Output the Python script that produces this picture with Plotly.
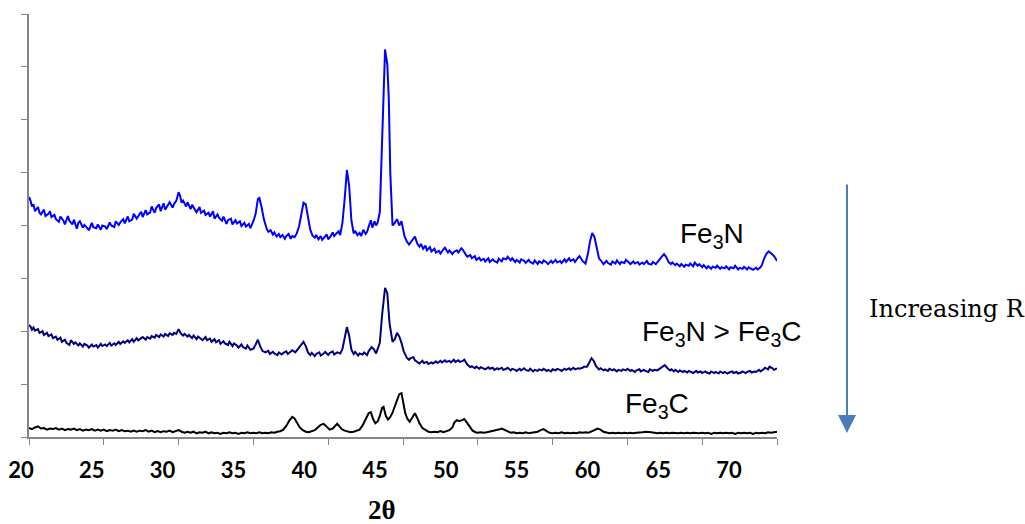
import plotly.graph_objects as go

# XRD patterns: (2-theta in degrees, intensity in arbitrary offset units)
fe3n_pattern = [
    (20.0, 4.54), (20.1, 4.47), (20.2, 4.36), (20.3, 4.40), (20.4, 4.27), (20.6, 4.35), (20.7, 4.24),
    (20.8, 4.21), (21.0, 4.30), (21.1, 4.18), (21.3, 4.22), (21.4, 4.27), (21.5, 4.16), (21.7, 4.20),
    (21.8, 4.12), (22.0, 4.07), (22.1, 4.17), (22.3, 4.09), (22.4, 4.02), (22.6, 4.18), (22.7, 4.09),
    (22.9, 4.02), (23.0, 4.11), (23.2, 3.94), (23.3, 4.05), (23.4, 4.08), (23.6, 3.96), (23.7, 4.01),
    (23.9, 3.95), (24.0, 3.91), (24.2, 4.05), (24.3, 3.97), (24.5, 3.95), (24.6, 4.02), (24.8, 3.92),
    (24.9, 4.00), (25.1, 3.98), (25.2, 3.93), (25.4, 4.06), (25.5, 4.00), (25.7, 3.97), (25.8, 4.08),
    (26.0, 4.01), (26.1, 4.06), (26.3, 4.12), (26.4, 4.04), (26.6, 4.17), (26.7, 4.08), (26.9, 4.11),
    (27.0, 4.22), (27.2, 4.13), (27.3, 4.18), (27.5, 4.26), (27.6, 4.16), (27.8, 4.29), (27.9, 4.21),
    (28.1, 4.25), (28.2, 4.36), (28.4, 4.24), (28.5, 4.33), (28.7, 4.40), (28.8, 4.27), (29.0, 4.42),
    (29.1, 4.30), (29.3, 4.38), (29.4, 4.44), (29.6, 4.34), (29.7, 4.41), (29.85, 4.47), (30.0, 4.63),
    (30.1, 4.56), (30.2, 4.43), (30.3, 4.47), (30.5, 4.36), (30.6, 4.44), (30.8, 4.31), (30.9, 4.39),
    (31.1, 4.30), (31.2, 4.25), (31.4, 4.35), (31.5, 4.24), (31.7, 4.28), (31.8, 4.20), (32.0, 4.24),
    (32.1, 4.17), (32.3, 4.27), (32.4, 4.13), (32.6, 4.21), (32.7, 4.15), (32.9, 4.09), (33.0, 4.17),
    (33.2, 4.03), (33.3, 4.10), (33.5, 4.13), (33.6, 4.02), (33.8, 4.10), (33.9, 4.04), (34.1, 4.08),
    (34.2, 3.99), (34.4, 4.05), (34.5, 3.98), (34.7, 4.03), (34.8, 3.95), (35.0, 4.08), (35.15, 4.22),
    (35.3, 4.50), (35.4, 4.52), (35.55, 4.34), (35.7, 4.12), (35.9, 3.93), (36.0, 3.88), (36.15, 3.91),
    (36.3, 3.83), (36.4, 3.87), (36.55, 3.79), (36.7, 3.84), (36.8, 3.78), (36.95, 3.82), (37.1, 3.75),
    (37.2, 3.80), (37.35, 3.84), (37.5, 3.75), (37.6, 3.80), (37.75, 3.78), (37.9, 3.85), (38.05, 3.98),
    (38.2, 4.25), (38.35, 4.43), (38.5, 4.40), (38.65, 4.15), (38.8, 3.92), (38.95, 3.81), (39.1, 3.77),
    (39.2, 3.82), (39.35, 3.74), (39.5, 3.80), (39.6, 3.73), (39.75, 3.78), (39.9, 3.83), (40.0, 3.74),
    (40.15, 3.79), (40.3, 3.87), (40.4, 3.80), (40.55, 3.85), (40.7, 3.89), (40.8, 3.82), (40.95, 4.05),
    (41.1, 4.50), (41.25, 5.05), (41.4, 4.75), (41.55, 4.10), (41.7, 3.85), (41.8, 3.90), (41.95, 3.82),
    (42.1, 3.86), (42.2, 3.80), (42.35, 3.92), (42.5, 3.84), (42.6, 3.88), (42.75, 4.02), (42.85, 4.10),
    (42.95, 3.96), (43.1, 4.08), (43.2, 4.00), (43.3, 4.05), (43.45, 4.25), (43.65, 5.80), (43.8, 7.33),
    (43.95, 7.05), (44.05, 6.40), (44.15, 5.00), (44.3, 4.00), (44.45, 4.05), (44.6, 4.12), (44.75, 4.00),
    (44.9, 4.08), (45.1, 3.80), (45.25, 3.70), (45.4, 3.64), (45.6, 3.72), (45.8, 3.79), (45.95, 3.66),
    (46.1, 3.60), (46.2, 3.65), (46.35, 3.56), (46.5, 3.62), (46.6, 3.53), (46.8, 3.59), (46.9, 3.51),
    (47.1, 3.56), (47.2, 3.49), (47.4, 3.52), (47.5, 3.47), (47.7, 3.55), (47.8, 3.58), (48.0, 3.49),
    (48.1, 3.53), (48.3, 3.46), (48.4, 3.50), (48.6, 3.53), (48.7, 3.49), (48.9, 3.57), (49.0, 3.54),
    (49.2, 3.45), (49.3, 3.41), (49.5, 3.44), (49.6, 3.38), (49.8, 3.42), (49.9, 3.35), (50.1, 3.39),
    (50.2, 3.34), (50.4, 3.37), (50.5, 3.32), (50.7, 3.38), (50.8, 3.31), (51.0, 3.36), (51.1, 3.33),
    (51.3, 3.30), (51.4, 3.37), (51.6, 3.32), (51.7, 3.38), (51.9, 3.36), (52.0, 3.41), (52.2, 3.34),
    (52.3, 3.38), (52.5, 3.31), (52.6, 3.35), (52.8, 3.30), (52.9, 3.36), (53.1, 3.33), (53.2, 3.29),
    (53.4, 3.35), (53.5, 3.31), (53.7, 3.28), (53.8, 3.34), (54.0, 3.27), (54.1, 3.32), (54.3, 3.29),
    (54.4, 3.34), (54.6, 3.30), (54.7, 3.27), (54.9, 3.33), (55.0, 3.29), (55.2, 3.35), (55.3, 3.30),
    (55.5, 3.33), (55.6, 3.29), (55.8, 3.36), (55.9, 3.31), (56.1, 3.38), (56.2, 3.33), (56.4, 3.36),
    (56.5, 3.31), (56.7, 3.39), (56.8, 3.42), (57.0, 3.33), (57.2, 3.28), (57.35, 3.45), (57.5, 3.70),
    (57.65, 3.86), (57.8, 3.78), (57.95, 3.58), (58.1, 3.38), (58.3, 3.31), (58.4, 3.27), (58.6, 3.33),
    (58.7, 3.29), (58.9, 3.26), (59.0, 3.32), (59.2, 3.28), (59.3, 3.34), (59.5, 3.27), (59.6, 3.31),
    (59.8, 3.29), (59.9, 3.35), (60.1, 3.30), (60.2, 3.27), (60.4, 3.32), (60.5, 3.28), (60.7, 3.31),
    (60.8, 3.26), (61.0, 3.30), (61.1, 3.27), (61.3, 3.33), (61.4, 3.28), (61.6, 3.26), (61.7, 3.31),
    (61.9, 3.27), (62.0, 3.30), (62.15, 3.35), (62.3, 3.41), (62.45, 3.46), (62.6, 3.40), (62.75, 3.31),
    (62.9, 3.27), (63.0, 3.30), (63.2, 3.25), (63.3, 3.28), (63.5, 3.23), (63.6, 3.27), (63.8, 3.22),
    (63.9, 3.26), (64.1, 3.24), (64.2, 3.28), (64.4, 3.23), (64.5, 3.30), (64.7, 3.24), (64.8, 3.27),
    (65.0, 3.21), (65.1, 3.25), (65.3, 3.19), (65.4, 3.23), (65.6, 3.18), (65.7, 3.22), (65.9, 3.20),
    (66.0, 3.24), (66.2, 3.18), (66.3, 3.21), (66.5, 3.19), (66.6, 3.23), (66.8, 3.17), (66.9, 3.21),
    (67.1, 3.19), (67.2, 3.24), (67.4, 3.17), (67.5, 3.20), (67.7, 3.18), (67.8, 3.22), (68.0, 3.17),
    (68.1, 3.21), (68.3, 3.18), (68.4, 3.16), (68.6, 3.20), (68.7, 3.17), (68.9, 3.21), (69.0, 3.26),
    (69.15, 3.38), (69.3, 3.47), (69.45, 3.51), (69.6, 3.48), (69.75, 3.44), (69.9, 3.38), (70.0, 3.33),
]

mixed_pattern = [
    (20.0, 2.12), (20.1, 2.09), (20.2, 2.03), (20.3, 2.07), (20.4, 2.01), (20.6, 2.04), (20.7, 1.97),
    (20.9, 2.00), (21.0, 1.93), (21.2, 1.97), (21.3, 1.91), (21.5, 1.94), (21.6, 1.87), (21.8, 1.90),
    (21.9, 1.84), (22.1, 1.88), (22.2, 1.80), (22.4, 1.84), (22.5, 1.78), (22.7, 1.74), (22.8, 1.83),
    (23.0, 1.76), (23.1, 1.79), (23.3, 1.73), (23.4, 1.77), (23.6, 1.71), (23.7, 1.76), (23.9, 1.73),
    (24.0, 1.69), (24.2, 1.75), (24.3, 1.71), (24.5, 1.74), (24.6, 1.69), (24.8, 1.76), (24.9, 1.72),
    (25.1, 1.75), (25.2, 1.72), (25.4, 1.78), (25.5, 1.73), (25.7, 1.77), (25.8, 1.74), (26.0, 1.80),
    (26.1, 1.76), (26.3, 1.81), (26.4, 1.78), (26.6, 1.83), (26.7, 1.79), (26.9, 1.85), (27.0, 1.80),
    (27.2, 1.87), (27.3, 1.83), (27.5, 1.86), (27.6, 1.89), (27.8, 1.84), (27.9, 1.89), (28.1, 1.86),
    (28.2, 1.91), (28.4, 1.88), (28.5, 1.93), (28.7, 1.89), (28.8, 1.94), (29.0, 1.90), (29.1, 1.95),
    (29.3, 1.91), (29.4, 1.96), (29.6, 1.93), (29.7, 1.97), (29.85, 1.95), (30.0, 2.04), (30.15, 1.96),
    (30.3, 1.92), (30.4, 1.95), (30.6, 1.90), (30.7, 1.93), (30.9, 1.87), (31.0, 1.92), (31.2, 1.85),
    (31.3, 1.90), (31.5, 1.86), (31.6, 1.83), (31.8, 1.89), (31.9, 1.83), (32.1, 1.86), (32.2, 1.80),
    (32.4, 1.85), (32.5, 1.79), (32.7, 1.83), (32.8, 1.76), (33.0, 1.81), (33.1, 1.77), (33.3, 1.74),
    (33.4, 1.80), (33.6, 1.72), (33.7, 1.77), (33.9, 1.73), (34.0, 1.69), (34.2, 1.75), (34.3, 1.70),
    (34.5, 1.67), (34.6, 1.73), (34.8, 1.65), (35.0, 1.67), (35.15, 1.75), (35.3, 1.84), (35.45, 1.72),
    (35.6, 1.63), (35.8, 1.60), (36.0, 1.63), (36.1, 1.57), (36.3, 1.61), (36.4, 1.58), (36.6, 1.55),
    (36.7, 1.60), (36.9, 1.56), (37.0, 1.59), (37.2, 1.62), (37.3, 1.57), (37.5, 1.61), (37.6, 1.64),
    (37.8, 1.60), (38.0, 1.68), (38.2, 1.76), (38.35, 1.80), (38.5, 1.72), (38.65, 1.60), (38.8, 1.55),
    (38.9, 1.59), (39.1, 1.53), (39.2, 1.57), (39.4, 1.60), (39.5, 1.54), (39.7, 1.58), (39.8, 1.61),
    (40.0, 1.55), (40.1, 1.59), (40.3, 1.62), (40.4, 1.56), (40.6, 1.60), (40.8, 1.58), (40.95, 1.66),
    (41.1, 1.90), (41.25, 2.08), (41.4, 1.92), (41.55, 1.65), (41.7, 1.57), (41.8, 1.61), (42.0, 1.54),
    (42.1, 1.58), (42.3, 1.56), (42.4, 1.60), (42.6, 1.55), (42.7, 1.62), (42.9, 1.70), (43.05, 1.66),
    (43.2, 1.58), (43.45, 1.78), (43.6, 2.30), (43.8, 2.82), (43.95, 2.72), (44.1, 2.15), (44.3, 1.80),
    (44.45, 1.85), (44.6, 1.97), (44.75, 1.90), (44.9, 1.78), (45.05, 1.62), (45.25, 1.50), (45.4, 1.46),
    (45.5, 1.49), (45.7, 1.51), (45.8, 1.45), (46.0, 1.42), (46.1, 1.39), (46.3, 1.44), (46.4, 1.40),
    (46.6, 1.42), (46.7, 1.38), (46.9, 1.41), (47.0, 1.39), (47.2, 1.43), (47.3, 1.40), (47.5, 1.44),
    (47.6, 1.41), (47.8, 1.45), (47.9, 1.42), (48.1, 1.44), (48.2, 1.41), (48.4, 1.46), (48.5, 1.42),
    (48.7, 1.45), (48.8, 1.42), (49.0, 1.44), (49.1, 1.46), (49.3, 1.37), (49.5, 1.32), (49.6, 1.34),
    (49.8, 1.30), (49.9, 1.33), (50.1, 1.29), (50.2, 1.32), (50.4, 1.30), (50.5, 1.28), (50.7, 1.32),
    (50.8, 1.29), (51.0, 1.31), (51.1, 1.27), (51.3, 1.30), (51.4, 1.28), (51.6, 1.31), (51.7, 1.27),
    (51.9, 1.29), (52.0, 1.31), (52.2, 1.26), (52.3, 1.29), (52.5, 1.27), (52.6, 1.25), (52.8, 1.29),
    (52.9, 1.26), (53.1, 1.30), (53.2, 1.27), (53.4, 1.25), (53.5, 1.29), (53.7, 1.24), (53.8, 1.27),
    (54.0, 1.25), (54.1, 1.28), (54.3, 1.26), (54.4, 1.29), (54.6, 1.25), (54.7, 1.27), (54.9, 1.24),
    (55.0, 1.28), (55.2, 1.26), (55.3, 1.29), (55.5, 1.27), (55.6, 1.25), (55.8, 1.29), (55.9, 1.27),
    (56.1, 1.30), (56.2, 1.27), (56.4, 1.31), (56.5, 1.28), (56.7, 1.30), (56.8, 1.29), (57.0, 1.31),
    (57.1, 1.33), (57.3, 1.33), (57.45, 1.42), (57.6, 1.49), (57.75, 1.44), (57.9, 1.34), (58.1, 1.28),
    (58.2, 1.30), (58.4, 1.26), (58.5, 1.28), (58.7, 1.25), (58.8, 1.29), (59.0, 1.26), (59.1, 1.28),
    (59.3, 1.24), (59.4, 1.27), (59.6, 1.25), (59.7, 1.28), (59.9, 1.26), (60.0, 1.29), (60.2, 1.25),
    (60.3, 1.27), (60.5, 1.23), (60.6, 1.26), (60.8, 1.28), (60.9, 1.24), (61.1, 1.27), (61.2, 1.25),
    (61.4, 1.23), (61.5, 1.28), (61.7, 1.25), (61.8, 1.27), (62.0, 1.26), (62.15, 1.29), (62.3, 1.31),
    (62.5, 1.36), (62.65, 1.31), (62.85, 1.26), (62.95, 1.28), (63.1, 1.24), (63.2, 1.27), (63.4, 1.23),
    (63.5, 1.26), (63.7, 1.23), (63.8, 1.25), (64.0, 1.22), (64.1, 1.25), (64.3, 1.23), (64.4, 1.21),
    (64.6, 1.25), (64.7, 1.22), (64.9, 1.24), (65.0, 1.21), (65.2, 1.24), (65.3, 1.22), (65.5, 1.20),
    (65.6, 1.24), (65.8, 1.21), (65.9, 1.23), (66.1, 1.20), (66.2, 1.24), (66.4, 1.21), (66.5, 1.23),
    (66.7, 1.20), (66.8, 1.22), (67.0, 1.24), (67.1, 1.21), (67.3, 1.23), (67.4, 1.20), (67.6, 1.22),
    (67.7, 1.24), (67.9, 1.21), (68.0, 1.23), (68.2, 1.25), (68.3, 1.22), (68.5, 1.24), (68.6, 1.23),
    (68.8, 1.27), (68.9, 1.24), (69.1, 1.28), (69.2, 1.31), (69.4, 1.28), (69.5, 1.33), (69.7, 1.30),
    (69.8, 1.27), (70.0, 1.30),
]

fe3c_pattern = [
    (20.0, 0.17), (20.2, 0.15), (20.4, 0.18), (20.6, 0.20), (20.8, 0.16), (21.0, 0.17), (21.2, 0.14),
    (21.4, 0.16), (21.6, 0.15), (21.8, 0.17), (22.0, 0.14), (22.2, 0.16), (22.4, 0.13), (22.6, 0.15),
    (22.8, 0.14), (23.0, 0.16), (23.2, 0.13), (23.4, 0.15), (23.6, 0.12), (23.8, 0.14), (24.0, 0.13),
    (24.2, 0.15), (24.4, 0.12), (24.6, 0.14), (24.8, 0.12), (25.0, 0.14), (25.2, 0.11), (25.4, 0.13),
    (25.6, 0.12), (25.8, 0.14), (26.0, 0.11), (26.2, 0.13), (26.4, 0.11), (26.6, 0.12), (26.8, 0.10),
    (27.0, 0.12), (27.2, 0.10), (27.4, 0.12), (27.6, 0.11), (27.8, 0.13), (28.0, 0.10), (28.2, 0.12),
    (28.4, 0.09), (28.6, 0.11), (28.8, 0.09), (29.0, 0.11), (29.2, 0.10), (29.4, 0.12), (29.6, 0.09),
    (29.8, 0.11), (30.0, 0.13), (30.2, 0.10), (30.4, 0.08), (30.6, 0.10), (30.8, 0.08), (31.0, 0.10),
    (31.2, 0.07), (31.4, 0.09), (31.6, 0.08), (31.8, 0.10), (32.0, 0.07), (32.2, 0.09), (32.4, 0.07),
    (32.6, 0.08), (32.8, 0.06), (33.0, 0.08), (33.2, 0.07), (33.4, 0.09), (33.6, 0.07), (33.8, 0.08),
    (34.0, 0.06), (34.2, 0.08), (34.4, 0.07), (34.6, 0.09), (34.8, 0.07), (35.0, 0.08), (35.2, 0.07),
    (35.4, 0.09), (35.6, 0.07), (35.8, 0.08), (36.0, 0.07), (36.2, 0.09), (36.4, 0.08), (36.6, 0.10),
    (36.8, 0.11), (37.0, 0.14), (37.2, 0.21), (37.4, 0.31), (37.6, 0.38), (37.75, 0.35), (37.9, 0.27),
    (38.1, 0.18), (38.3, 0.13), (38.5, 0.10), (38.7, 0.09), (38.9, 0.11), (39.1, 0.13), (39.3, 0.18),
    (39.5, 0.23), (39.7, 0.25), (39.9, 0.19), (40.1, 0.14), (40.3, 0.16), (40.5, 0.22), (40.6, 0.25),
    (40.75, 0.20), (40.9, 0.15), (41.1, 0.12), (41.3, 0.10), (41.5, 0.09), (41.7, 0.10), (41.9, 0.12),
    (42.1, 0.14), (42.3, 0.22), (42.5, 0.35), (42.7, 0.45), (42.85, 0.47), (43.0, 0.34), (43.15, 0.26),
    (43.3, 0.29), (43.45, 0.40), (43.6, 0.55), (43.7, 0.57), (43.85, 0.40), (44.0, 0.33), (44.15, 0.38),
    (44.3, 0.46), (44.45, 0.58), (44.6, 0.70), (44.75, 0.81), (44.9, 0.83), (45.0, 0.68), (45.15, 0.45),
    (45.3, 0.34), (45.45, 0.29), (45.6, 0.36), (45.8, 0.45), (45.95, 0.36), (46.1, 0.26), (46.3, 0.17),
    (46.5, 0.13), (46.7, 0.10), (46.9, 0.09), (47.1, 0.10), (47.3, 0.09), (47.5, 0.11), (47.7, 0.09),
    (47.9, 0.11), (48.1, 0.13), (48.3, 0.18), (48.45, 0.28), (48.6, 0.32), (48.75, 0.30), (48.95, 0.32),
    (49.1, 0.34), (49.25, 0.28), (49.45, 0.19), (49.65, 0.12), (49.85, 0.09), (50.0, 0.08), (50.2, 0.09),
    (50.4, 0.08), (50.6, 0.09), (50.8, 0.10), (51.0, 0.11), (51.2, 0.12), (51.4, 0.14), (51.6, 0.16),
    (51.8, 0.13), (52.0, 0.10), (52.2, 0.08), (52.4, 0.09), (52.6, 0.07), (52.8, 0.08), (53.0, 0.07),
    (53.2, 0.09), (53.4, 0.07), (53.6, 0.08), (53.8, 0.09), (54.0, 0.10), (54.2, 0.13), (54.4, 0.15),
    (54.6, 0.11), (54.8, 0.08), (55.0, 0.07), (55.2, 0.08), (55.4, 0.07), (55.6, 0.09), (55.8, 0.07),
    (56.0, 0.08), (56.2, 0.07), (56.4, 0.08), (56.6, 0.07), (56.8, 0.09), (57.0, 0.08), (57.2, 0.09),
    (57.4, 0.08), (57.6, 0.10), (57.8, 0.13), (58.0, 0.16), (58.2, 0.14), (58.4, 0.10), (58.6, 0.08),
    (58.8, 0.07), (59.0, 0.08), (59.2, 0.07), (59.4, 0.08), (59.6, 0.07), (59.8, 0.08), (60.0, 0.07),
    (60.2, 0.08), (60.4, 0.07), (60.6, 0.08), (60.8, 0.08), (61.0, 0.09), (61.2, 0.10), (61.4, 0.10),
    (61.6, 0.09), (61.8, 0.08), (62.0, 0.07), (62.2, 0.08), (62.4, 0.07), (62.6, 0.08), (62.8, 0.07),
    (63.0, 0.08), (63.2, 0.07), (63.4, 0.07), (63.6, 0.08), (63.8, 0.07), (64.0, 0.08), (64.2, 0.07),
    (64.4, 0.08), (64.6, 0.07), (64.8, 0.07), (65.0, 0.08), (65.2, 0.07), (65.4, 0.08), (65.6, 0.06),
    (65.8, 0.08), (66.0, 0.07), (66.2, 0.08), (66.4, 0.07), (66.6, 0.08), (66.8, 0.07), (67.0, 0.08),
    (67.2, 0.06), (67.4, 0.08), (67.6, 0.07), (67.8, 0.08), (68.0, 0.07), (68.2, 0.08), (68.4, 0.06),
    (68.6, 0.08), (68.8, 0.07), (69.0, 0.08), (69.2, 0.07), (69.4, 0.09), (69.6, 0.08), (69.8, 0.09),
    (70.0, 0.10),
]

x_tick_values = [20, 25, 30, 35, 40, 45, 50, 55, 60, 65, 70]
x_tick_labels = ["20", "25", "30", "35", "40", "45", "50", "55", "60", "65", "70"]

series = [
    ("Fe3N", fe3n_pattern, "#0000FF"),
    ("Fe3N > Fe3C", mixed_pattern, "#000080"),
    ("Fe3C", fe3c_pattern, "#000000"),
]

fig = go.Figure()
for name, pattern, color in series:
    angles = [p[0] for p in pattern]
    counts = [p[1] for p in pattern]
    fig.add_trace(go.Scatter(
        x=angles, y=counts, mode="lines", name=name,
        line=dict(color=color, width=2), showlegend=False,
    ))

# empty trace so the labelled 2-theta axis gets its own subplot
fig.add_trace(go.Scatter(x=[], y=[], xaxis="x2", yaxis="y", mode="lines",
                         showlegend=False, hoverinfo="skip"))

axis_grey = "#868686"
plot_left = 10      # left margin in px
plot_width = 767    # width of the area inside the margins

fig.update_layout(
    width=1025, height=524,
    margin=dict(l=plot_left, r=248, t=14, b=87, autoexpand=False),
    paper_bgcolor="white", plot_bgcolor="rgba(0,0,0,0)",
    xaxis=dict(
        domain=[19 / plot_width, 1],
        range=[20, 70], tickmode="array", tickvals=x_tick_values,
        showticklabels=False, ticks="outside", ticklen=6, tickwidth=1, tickcolor=axis_grey,
        showline=True, linecolor=axis_grey, linewidth=1.5,
        showgrid=False, zeroline=False,
    ),
    # label row for the 2-theta scale, spanning the full width
    xaxis2=dict(
        domain=[0, 1], anchor="y", side="bottom",
        range=[19.223, 73.39], tickmode="array",
        tickvals=x_tick_values, ticktext=x_tick_labels,
        ticks="", showline=False, showgrid=False, zeroline=False,
        ticklabelstandoff=18,
        tickfont=dict(family="Lato", size=22, color="black", weight="bold"),
    ),
    yaxis=dict(
        range=[0, 8], dtick=1, showticklabels=False, anchor="x",
        ticks="outside", ticklen=6, tickwidth=1, tickcolor=axis_grey,
        showline=True, linecolor=axis_grey, linewidth=1.5,
        showgrid=False, zeroline=False,
    ),
)

label_font = dict(family="Liberation Sans", size=28, color="black")
fig.add_annotation(x=63.4, y=3.82, xref="x", yref="y", text="Fe<sub>3</sub>N",
                   showarrow=False, xanchor="left", yanchor="middle", font=label_font)
fig.add_annotation(x=60.84, y=1.95, xref="x", yref="y", text="Fe<sub>3</sub>N &gt; Fe<sub>3</sub>C",
                   showarrow=False, xanchor="left", yanchor="middle", font=label_font)
fig.add_annotation(x=59.7, y=0.59, xref="x", yref="y", text="Fe<sub>3</sub>C",
                   showarrow=False, xanchor="left", yanchor="middle", font=label_font)

# axis title
fig.add_annotation(x=(382 - plot_left) / plot_width, y=-0.172, xref="paper", yref="paper", text="2θ",
                   showarrow=False, xanchor="center", yanchor="middle",
                   font=dict(family="Liberation Serif", size=27, color="black", weight="bold"))

# trend arrow with caption
fig.add_annotation(x=(847 - plot_left) / plot_width, y=0.0095, xref="paper", yref="paper", text="",
                   showarrow=True, ax=0, ay=-250, axref="pixel", ayref="pixel",
                   arrowhead=2, arrowsize=1.8, arrowwidth=2, arrowcolor="#4A7EBB")
fig.add_annotation(x=(867 - plot_left) / plot_width, y=0.3026, xref="paper", yref="paper",
                   text="Increasing R", showarrow=False, xanchor="left", yanchor="middle",
                   font=dict(family="DejaVu Serif", size=24, color="black"))

fig.write_html("out.html")
